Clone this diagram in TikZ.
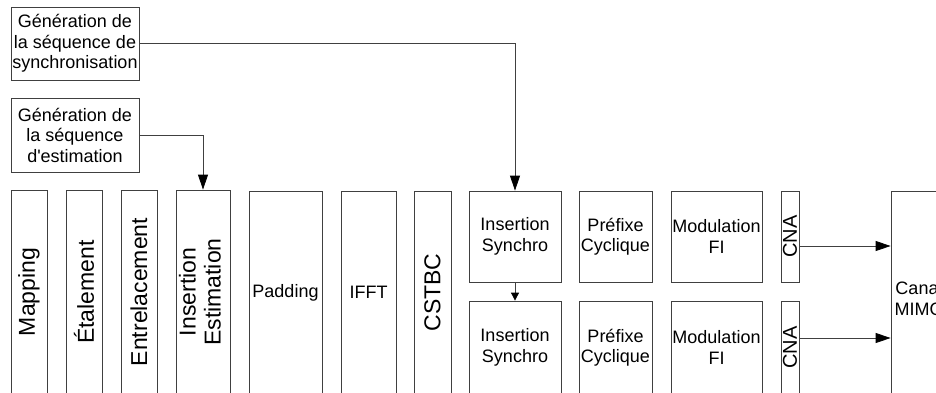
\documentclass[tikz,border=0pt]{standalone}
\usepackage{fontspec}
\setmainfont{Liberation Sans}
\usetikzlibrary{arrows.meta}
\newcommand{\straightapos}{{\XeTeXglyph\XeTeXcharglyph"0027\relax}}
\begin{document}
\begin{tikzpicture}[x=1pt,y=-1pt,
  box/.style={draw=black!75, line width=0.8pt, inner sep=0pt, align=center,
    font=\fontsize{18}{20.5}\selectfont},
  rot/.style={font=\fontsize{23}{25}\selectfont},
  wire/.style={draw=black!75, line width=0.8pt},
  arr/.style={wire, -{Triangle[length=15pt,width=10pt,color=black]}},
  sarr/.style={wire, -{Triangle[length=8pt,width=8pt,color=black]}}]
\useasboundingbox (0,0) rectangle (936,392);
\clip (0,0) rectangle (936,392);
% generators
\node[box, minimum width=128pt, minimum height=73pt] (gensync) at (75,43.5)
  {Génération de\\la séquence de\\synchronisation};
\node[box, minimum width=128pt, minimum height=74pt] (genest) at (75,135)
  {Génération de\\la séquence\\d\straightapos estimation};
% bottom chain
\node[box, rot, minimum width=36pt, minimum height=204pt] (map) at (29,292)
  {\rotatebox{90}{Mapping}};
\node[box, rot, minimum width=36pt, minimum height=204pt] (eta) at (84,292)
  {\rotatebox{90}{Étalement}};
\node[box, rot, minimum width=36pt, minimum height=204pt] (ent) at (139,292)
  {\rotatebox{90}{Entrelacement}};
\node[box, rot, minimum width=54pt, minimum height=204pt] (ie) at (203,292)
  {\rotatebox{90}{\begin{tabular}{@{}c@{}}Insertion\\Estimation\end{tabular}}};
\node[box, minimum width=73pt, minimum height=203pt] (pad) at (285.5,292.5)
  {Padding};
\node[box, minimum width=55pt, minimum height=203pt] (ifft) at (368.5,292.5)
  {IFFT};
\node[box, rot, minimum width=37pt, minimum height=203pt] (cstbc) at (432.5,292.5)
  {\rotatebox{90}{CSTBC}};
% two branches
\node[box, minimum width=92pt, minimum height=91pt] (is1) at (515,236.5)
  {Insertion\\Synchro};
\node[box, minimum width=92pt, minimum height=93pt] (is2) at (515,347.5)
  {Insertion\\Synchro};
\node[box, minimum width=73pt, minimum height=91pt] (pc1) at (615.5,236.5)
  {Préfixe\\Cyclique};
\node[box, minimum width=73pt, minimum height=93pt] (pc2) at (615.5,347.5)
  {Préfixe\\Cyclique};
\node[box, minimum width=91pt, minimum height=91pt] (mf1) at (716.5,236.5)
  {Modulation\\FI};
\node[box, minimum width=91pt, minimum height=93pt] (mf2) at (716.5,347.5)
  {Modulation\\FI};
\node[box, minimum width=18pt, minimum height=91pt, font=\fontsize{20}{22}\selectfont] (cna1) at (790,236.5)
  {\rotatebox{90}{CNA}};
\node[box, minimum width=18pt, minimum height=93pt, font=\fontsize{20}{22}\selectfont] (cna2) at (790,347.5)
  {\rotatebox{90}{CNA}};
\node[box, minimum width=56pt, minimum height=215pt] (canal) at (919,298.5)
  {Canal\\MIMO};
% connectors
\draw[arr] (gensync.east) -| (is1.north);
\draw[arr] (genest.east) -| (ie.north);
\draw[sarr] (is1.south) -- (is2.north);
\draw[arr] ([yshift=-9.5pt]cna1.east) -- ([yshift=-9.5pt]cna1.east -| canal.west);
\draw[arr] ([yshift=9.5pt]cna2.east) -- ([yshift=9.5pt]cna2.east -| canal.west);
\end{tikzpicture}
\end{document}
